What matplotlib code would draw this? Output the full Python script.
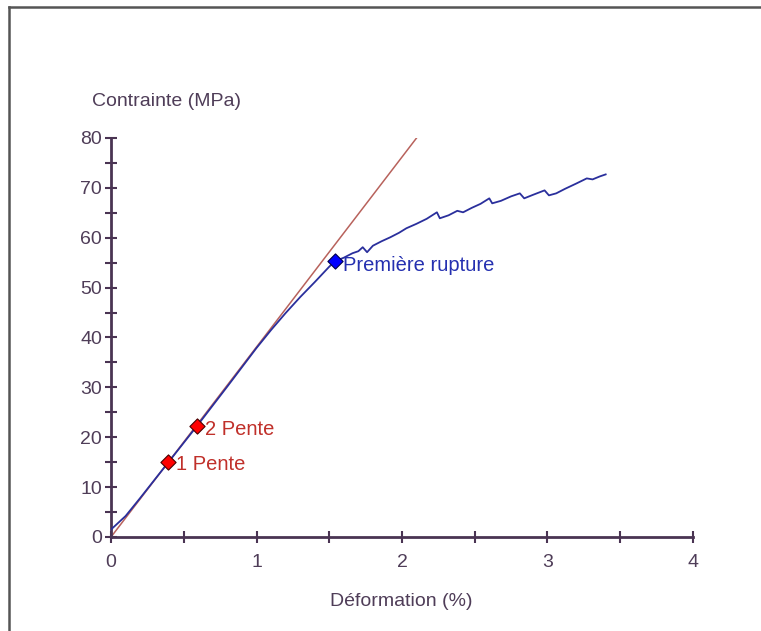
import matplotlib
matplotlib.use("Agg")
import matplotlib.pyplot as plt
from matplotlib.lines import Line2D
from matplotlib.ticker import MultipleLocator

# ---- data ----
strain = [0.0, 0.1, 0.2, 0.4, 0.6, 0.8, 1.0, 1.1, 1.2, 1.3, 1.4, 1.5, 1.54,
          1.60, 1.66, 1.70, 1.73, 1.76, 1.80, 1.86, 1.92, 1.98, 2.03, 2.10,
          2.17, 2.24, 2.26, 2.32, 2.38, 2.42, 2.48, 2.54, 2.60, 2.62, 2.68,
          2.75, 2.81, 2.84, 2.90, 2.98, 3.01, 3.06, 3.12, 3.20, 3.27, 3.31,
          3.36, 3.40]
stress = [1.5, 4.2, 7.8, 15.2, 22.6, 30.2, 37.9, 41.5, 44.9, 48.1, 51.1, 54.2, 55.3,
          56.0, 56.9, 57.3, 58.1, 57.1, 58.4, 59.3, 60.1, 61.0, 61.9, 62.8,
          63.8, 65.1, 63.9, 64.5, 65.4, 65.1, 66.0, 66.8, 67.9, 66.9, 67.4,
          68.3, 68.9, 67.9, 68.6, 69.5, 68.5, 68.9, 69.8, 70.9, 71.9, 71.7,
          72.3, 72.7]

slope_x = [0.0, 2.1]
slope_y = [0.0, 80.0]

pente_x = [0.39, 0.59]
pente_y = [15.0, 22.2]
pente_labels = ["1 Pente", "2 Pente"]

rupture_x = [1.54]
rupture_y = [55.3]
rupture_label = "Première rupture"

x_ticks = [0, 1, 2, 3, 4]
y_ticks = [0, 10, 20, 30, 40, 50, 60, 70, 80]

# ---- styling ----
plt.rcParams['font.family'] = ['Liberation Sans', 'DejaVu Sans']
axis_col = "#4a3453"
text_col = "#4f3d58"

fig = plt.figure(figsize=(7.61, 6.31), dpi=100)
ax = fig.add_axes([0.1459, 0.149, 0.9106 - 0.1459, 0.7813 - 0.149])

ax.plot(slope_x, slope_y, color="#b8625c", lw=1.1, zorder=2)
ax.plot(strain, stress, color="#2a2f9c", lw=1.3, zorder=3)

ax.scatter(pente_x, pente_y, marker="D", s=60, color="#ff0000",
           edgecolors="#4a0000", linewidths=0.8, zorder=5)
for xv, yv, lab in zip(pente_x, pente_y, pente_labels):
    ax.annotate(lab, (xv, yv), xytext=(6, -2), textcoords="offset points",
                ha="left", va="center", color="#c0302a", fontsize=14.5)

ax.scatter(rupture_x, rupture_y, marker="D", s=60, color="#0000ff",
           edgecolors="#00004a", linewidths=0.8, zorder=5)
ax.annotate(rupture_label, (rupture_x[0], rupture_y[0]), xytext=(6, -3),
            textcoords="offset points", ha="left", va="center",
            color="#2530b0", fontsize=14.5)

ax.set_xlim(0, 4)
ax.set_ylim(0, 80)
ax.set_xticks(x_ticks)
ax.set_yticks(y_ticks)
ax.xaxis.set_minor_locator(MultipleLocator(0.5))
ax.yaxis.set_minor_locator(MultipleLocator(5))

for s in ["top", "right"]:
    ax.spines[s].set_visible(False)
for s in ["left", "bottom"]:
    ax.spines[s].set_color(axis_col)
    ax.spines[s].set_linewidth(2)

ax.tick_params(which="both", direction="inout", color=axis_col, width=1.5,
               labelcolor=text_col, labelsize=14)
ax.tick_params(which="major", length=9)
ax.tick_params(which="minor", length=9)
ax.tick_params(axis="x", pad=8)
ax.tick_params(axis="y", pad=2)

fig.text(166 / 761, 1 - 102 / 631, "Contrainte (MPa)", ha="center",
         va="center", color=text_col, fontsize=14)
fig.text(401 / 761, 1 - 602 / 631, "Déformation (%)", ha="center",
         va="center", color=text_col, fontsize=14)

# outer frame (left and top edges)
fig.add_artist(Line2D([9 / 761, 9 / 761], [0, 1 - 7 / 631],
                      transform=fig.transFigure, color="#555555", lw=1.8))
fig.add_artist(Line2D([9 / 761, 1], [1 - 7 / 631, 1 - 7 / 631],
                      transform=fig.transFigure, color="#555555", lw=1.8))

fig.savefig("out.png", dpi=100)
